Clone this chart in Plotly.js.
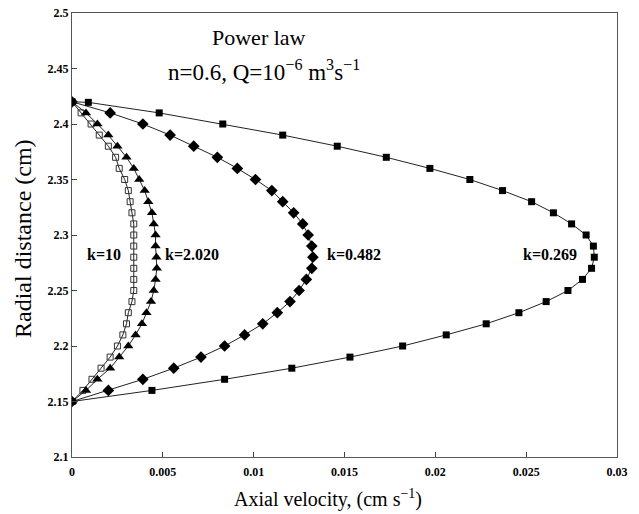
<!DOCTYPE html>
<html>
<head>
<meta charset="utf-8">
<script src="https://cdn.plot.ly/plotly-3.0.1.min.js"></script>
<style>html,body{margin:0;padding:0;background:#fff;}#chart{width:639px;height:514px;}</style>
</head>
<body>
<div id="chart"></div>
<script>
// Radial positions (cm)
const yGrid = [2.42,2.41,2.40,2.39,2.38,2.37,2.36,2.35,2.34,2.33,2.32,2.31,2.30,2.29,2.28,2.27,2.26,2.25,2.24,2.23,2.22,2.21,2.20,2.19,2.18,2.17,2.16,2.15];
const yK0269 = [2.42,2.4195,2.41,2.40,2.39,2.38,2.37,2.36,2.35,2.34,2.33,2.32,2.31,2.30,2.29,2.28,2.27,2.26,2.25,2.24,2.23,2.22,2.21,2.20,2.19,2.18,2.17,2.16,2.15];

// Axial velocities (cm/s)
const vK0269 = [0,0.0009,0.0048,0.0083,0.0116,0.0146,0.0173,0.0197,0.0219,0.0237,0.0253,0.0265,0.0275,0.0283,0.0287,0.02875,0.0286,0.0281,0.0273,0.0261,0.0246,0.0228,0.0206,0.0182,0.0153,0.0121,0.0084,0.0044,0];
const vK0482 = [0,0.0021,0.0039,0.0054,0.0067,0.0080,0.0091,0.0101,0.0110,0.0116,0.0122,0.0127,0.0130,0.0132,0.01326,0.0132,0.0129,0.0125,0.0120,0.0113,0.0105,0.0095,0.0084,0.0071,0.0056,0.0039,0.0020,0];
const vK2020 = [0,0.00077,0.0014,0.0020,0.0025,0.0030,0.0034,0.0037,0.0040,0.0042,0.0044,0.0045,0.0046,0.0046,0.00465,0.00467,0.0046,0.0045,0.00435,0.0041,0.00385,0.0035,0.0031,0.0026,0.0021,0.0014,0.00077,0];
const vK10 = [0,0.0005,0.00105,0.0015,0.0020,0.0024,0.0026,0.0029,0.0031,0.0032,0.0033,0.0034,0.0034,0.0034,0.0034,0.0034,0.0034,0.0034,0.0033,0.0031,0.0030,0.0028,0.0025,0.0021,0.0016,0.0011,0.0006,0];

const labels = ["k=10","k=2.020","k=0.482","k=0.269"];
const labelX = [0.00176,0.0066,0.0155,0.0263];
const labelY = [2.282,2.282,2.282,2.282];

const xTicks = [0,0.005,0.01,0.015,0.02,0.025,0.03];
const xTickText = ["0","0.005","0.01","0.015","0.02","0.025","0.03"];
const yTicks = [2.1,2.15,2.2,2.25,2.3,2.35,2.4,2.45,2.5];
const yTickText = ["2.1","2.15","2.2","2.25","2.3","2.35","2.4","2.45","2.5"];

const serif = "Liberation Serif, Times New Roman, serif";
const lineStyle = {color:"#222", width:1};

const traces = [
  {x:vK10, y:yGrid, mode:"lines+markers", line:lineStyle,
   marker:{symbol:"square-open", size:6, color:"#333", line:{width:1,color:"#333"}}},
  {x:vK2020, y:yGrid, mode:"lines+markers", line:lineStyle,
   marker:{symbol:"triangle-up", size:9, color:"#000"}},
  {x:vK0482, y:yGrid, mode:"lines+markers", line:lineStyle,
   marker:{symbol:"diamond", size:9, color:"#000"}},
  {x:vK0269, y:yK0269, mode:"lines+markers", line:lineStyle,
   marker:{symbol:"square", size:7, color:"#000"}}
];

const annotations = labels.map((t,i)=>({x:labelX[i], y:labelY[i], xref:"x", yref:"y", text:"<b>"+t+"</b>", showarrow:false,
  font:{family:serif, size:16, color:"#000"}}));
annotations.push({x:0.0103, y:2.478, xref:"x", yref:"y", text:"Power law", showarrow:false,
  font:{family:serif, size:22, color:"#000"}});
annotations.push({x:0.01057, y:2.4486, xref:"x", yref:"y", text:"n=0.6, Q=10<sup>−6</sup> m<sup>3</sup>s<sup>−1</sup>", showarrow:false,
  font:{family:serif, size:23, color:"#000"}});
// axis titles placed in paper coords (paper = plot area: x 72..617 px, y 13..457 px)
annotations.push({x:(23-72)/545, y:(457-239)/444, xref:"paper", yref:"paper", xanchor:"center", yanchor:"middle",
  text:"Radial distance (cm)", textangle:-90, showarrow:false,
  font:{family:serif, size:24, color:"#000"}});
annotations.push({x:(328-72)/545, y:(457-499)/444, xref:"paper", yref:"paper", xanchor:"center", yanchor:"middle",
  text:"Axial velocity, (cm s<sup>−1</sup>)", showarrow:false,
  font:{family:serif, size:20, color:"#000"}});

const layout = {
  width:639, height:514,
  margin:{l:72, r:22, t:13, b:57},
  paper_bgcolor:"#fff", plot_bgcolor:"#fff",
  showlegend:false,
  xaxis:{range:[0,0.03], tickvals:xTicks, ticktext:xTickText,
    ticks:"inside", ticklen:5, tickcolor:"#444", showgrid:false, zeroline:false,
    showline:true, mirror:true, linecolor:"#555", linewidth:1, ticklabelstandoff:4,
    tickfont:{family:serif, size:12, color:"#000", weight:"bold"}},
  yaxis:{range:[2.1,2.5], tickvals:yTicks, ticktext:yTickText,
    ticks:"inside", ticklen:5, tickcolor:"#444", showgrid:false, zeroline:false,
    showline:true, mirror:true, linecolor:"#555", linewidth:1,
    tickfont:{family:serif, size:12, color:"#000", weight:"bold"}},
  annotations:annotations
};

Plotly.newPlot("chart", traces, layout, {staticPlot:true, displayModeBar:false});
</script>
</body>
</html>
